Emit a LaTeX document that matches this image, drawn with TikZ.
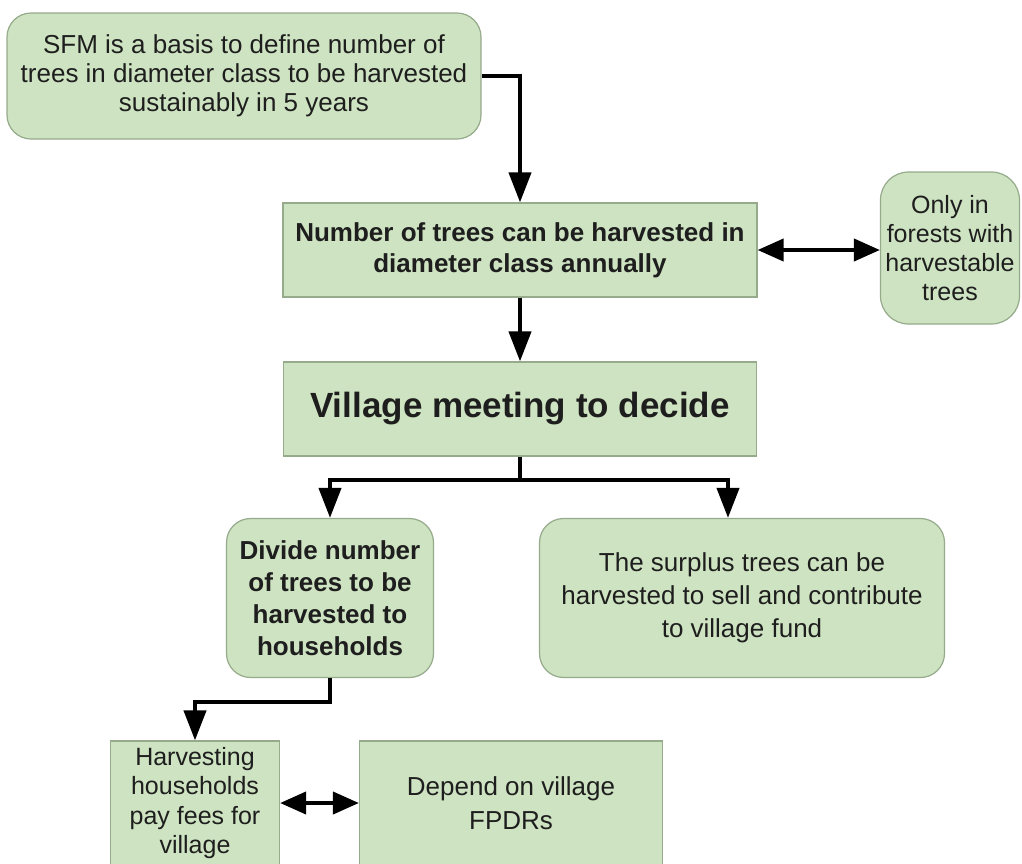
\documentclass[tikz,border=0pt]{standalone}
\usepackage{fontspec}
\setmainfont{Liberation Sans}
\usetikzlibrary{arrows.meta}
\definecolor{boxgreen}{RGB}{206,227,193}
\definecolor{boxline}{RGB}{150,170,140}
\definecolor{inktext}{RGB}{30,30,30}

\begin{document}
\begin{tikzpicture}[x=1pt,y=-1pt,
    box/.style={draw=boxline,line width=1.2pt,fill=boxgreen,align=center,inner sep=0pt,
      text=inktext,font=\fontsize{25}{30}\selectfont},
    roundbox/.style={box,rounded corners=24pt},
    boldbox/.style={font=\bfseries\fontsize{26}{31}\selectfont},
    arr/.style={line width=4pt,-{Triangle[length=30pt,width=22pt]}},
    darr/.style={line width=4pt,{Triangle[length=26pt,width=22pt]}-{Triangle[length=26pt,width=22pt]}}]
  \clip (0,0) rectangle (1022,863);
  \node[roundbox,minimum width=474pt,minimum height=126pt,font=\fontsize{26}{29}\selectfont] (sfm) at (244,76)
    {SFM is a basis to define number of\\trees in diameter class to be harvested\\sustainably in 5 years};
  \node[box,boldbox,minimum width=474pt,minimum height=94pt] (annual) at (520,250)
    {Number of trees can be harvested in\\diameter class annually};
  \node[roundbox,rounded corners=28pt,minimum width=139pt,minimum height=152pt,font=\fontsize{25}{29}\selectfont] (only) at (950,248)
    {Only in\\forests with\\harvestable\\trees};
  \node[box,minimum width=473pt,minimum height=94pt,font=\bfseries\fontsize{35}{40}\selectfont] (meeting) at (520,409)
    {Village meeting to decide};
  \node[roundbox,boldbox,minimum width=207pt,minimum height=159pt,font=\bfseries\fontsize{26}{32}\selectfont] (divide) at (330,598)
    {Divide number\\of trees to be\\harvested to\\households};
  \node[roundbox,minimum width=405pt,minimum height=159pt,font=\fontsize{26}{33}\selectfont] (surplus) at (742,598)
    {The surplus trees can be\\harvested to sell and contribute\\to village fund};
  \node[box,minimum width=169pt,minimum height=124pt,font=\fontsize{25}{29.5}\selectfont] (fees) at (195,803)
    {Harvesting\\households\\pay fees for\\village};
  \node[box,minimum width=303pt,minimum height=124pt,font=\fontsize{26}{34}\selectfont] (fpdr) at (511,803)
    {Depend on village\\FPDRs};

  \draw[arr] (sfm.east) -| (annual.north);
  \draw[darr] (annual.east) -- (annual.east -| only.west);
  \draw[arr] (annual.south) -- (meeting.north);
  \draw[line width=4pt] (meeting.south) -- ++(0,23) coordinate (fork);
  \draw[arr] (fork) -| (divide.north);
  \draw[arr] (fork) -| ([xshift=-14pt]surplus.north);
  \draw[arr] (divide.south) -- ++(0,24) -| (fees.north);
  \draw[darr] (fees.east) -- (fees.east -| fpdr.west);
\end{tikzpicture}
\end{document}
